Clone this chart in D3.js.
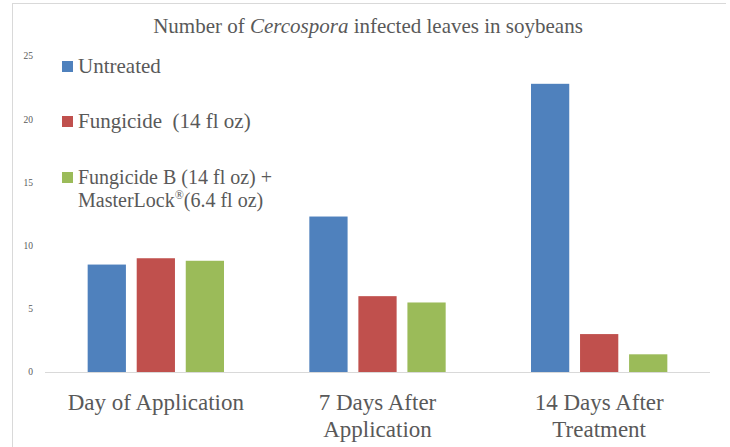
<!DOCTYPE html>
<html>
<head>
<meta charset="utf-8">
<script src="https://cdn.jsdelivr.net/npm/d3@7"></script>
<style>
  body { margin: 0; background: #fff; }
  text { font-family: "Liberation Serif", serif; fill: #595959; }
</style>
</head>
<body>
<script>
// categories and series
var groups = [["Day of Application"], ["7 Days After", "Application"], ["14 Days After", "Treatment"]];
var groupKeys = ["day0", "day7", "day14"];
var seriesNames = ["Untreated", "Fungicide", "FungicideB"];
var seriesColors = ["#4f81bd", "#c0504d", "#9bbb59"];
var untreated = [8.5, 12.3, 22.8];
var fungicide = [9.0, 6.0, 3.0];
var fungicideB = [8.8, 5.5, 1.4];
var yTicks = [0, 5, 10, 15, 20, 25];

var values = [untreated, fungicide, fungicideB];

var W = 730, H = 447;

var svg = d3.select("body").append("svg")
    .attr("width", W)
    .attr("height", H);

// frame (top + left edge only, like the cropped original)
svg.append("line")
    .attr("x1", 12).attr("x2", 726).attr("y1", 3.5).attr("y2", 3.5)
    .attr("stroke", "#d9d9d9");
svg.append("line")
    .attr("x1", 12.5).attr("x2", 12.5).attr("y1", 3).attr("y2", H)
    .attr("stroke", "#d9d9d9");

var x0 = d3.scaleBand()
    .domain(groupKeys)
    .range([45, 710]);

var x1 = d3.scaleBand()
    .domain(seriesNames)
    .range([0, x0.bandwidth()])
    .paddingInner(0.22)
    .paddingOuter(0.87);

var y = d3.scaleLinear()
    .domain([0, 25])
    .range([372, 56]);

// title
var title = svg.append("text")
    .attr("x", 368)
    .attr("y", 33)
    .attr("text-anchor", "middle")
    .style("font-size", "21px");
title.append("tspan").text("Number of ");
title.append("tspan").style("font-style", "italic").text("Cercospora");
title.append("tspan").text(" infected leaves in soybeans");

// y tick labels (no axis line)
svg.selectAll(".ytick")
    .data(yTicks)
  .enter().append("text")
    .attr("class", "ytick")
    .attr("x", 33)
    .attr("y", function(d) { return y(d); })
    .attr("dy", "0.35em")
    .attr("text-anchor", "end")
    .style("font-size", "9.5px")
    .text(function(d) { return d; });

// bars
var g = svg.selectAll(".grp")
    .data(groupKeys)
  .enter().append("g")
    .attr("class", "grp")
    .attr("transform", function(d) { return "translate(" + x0(d) + ",0)"; });

g.selectAll("rect")
    .data(function(d, i) {
      return seriesNames.map(function(s, j) { return {s: s, v: values[j][i], c: seriesColors[j]}; });
    })
  .enter().append("rect")
    .attr("x", function(d) { return x1(d.s); })
    .attr("y", function(d) { return y(d.v); })
    .attr("width", x1.bandwidth())
    .attr("height", function(d) { return y(0) - y(d.v); })
    .attr("fill", function(d) { return d.c; });

// baseline
svg.append("line")
    .attr("x1", 45).attr("x2", 710)
    .attr("y1", y(0) + 0.5).attr("y2", y(0) + 0.5)
    .attr("stroke", "#d9d9d9");

// category labels
svg.selectAll(".xlab")
    .data(groups)
  .enter().append("text")
    .attr("class", "xlab")
    .attr("x", function(d, i) { return x0(groupKeys[i]) + x0.bandwidth() / 2; })
    .attr("y", 410)
    .attr("text-anchor", "middle")
    .style("font-size", "23px")
    .selectAll("tspan")
    .data(function(d) { return d; })
  .enter().append("tspan")
    .attr("x", function() { return d3.select(this.parentNode).attr("x"); })
    .attr("dy", function(d, i) { return i ? 27 : 0; })
    .text(function(d) { return d; });

// legend
var legendRows = [61, 116, 172];
var leg = svg.selectAll(".leg")
    .data(seriesNames)
  .enter().append("g")
    .attr("class", "leg")
    .attr("transform", function(d, i) { return "translate(62," + legendRows[i] + ")"; });

leg.append("rect")
    .attr("width", 11)
    .attr("height", 11)
    .attr("fill", function(d, i) { return seriesColors[i]; });

leg.filter(function(d, i) { return i < 2; }).append("text")
    .attr("x", 16)
    .attr("y", 12)
    .style("font-size", "21px")
    .style("white-space", "pre")
    .text(function(d, i) { return ["Untreated", "Fungicide  (14 fl oz)"][i]; });

// third entry wraps over two separate lines
var l3 = leg.filter(function(d, i) { return i === 2; });
l3.append("text")
    .attr("x", 16)
    .attr("y", 12)
    .style("font-size", "20px")
    .text("Fungicide B (14 fl oz) +");
var l3b = l3.append("text")
    .attr("x", 16)
    .attr("y", 35)
    .style("font-size", "20px");
l3b.append("tspan").text("MasterLock");
l3b.append("tspan").attr("dy", -8).style("font-size", "12px").text("®");
l3b.append("tspan").attr("dy", 8).text("(6.4 fl oz)");
</script>
</body>
</html>
